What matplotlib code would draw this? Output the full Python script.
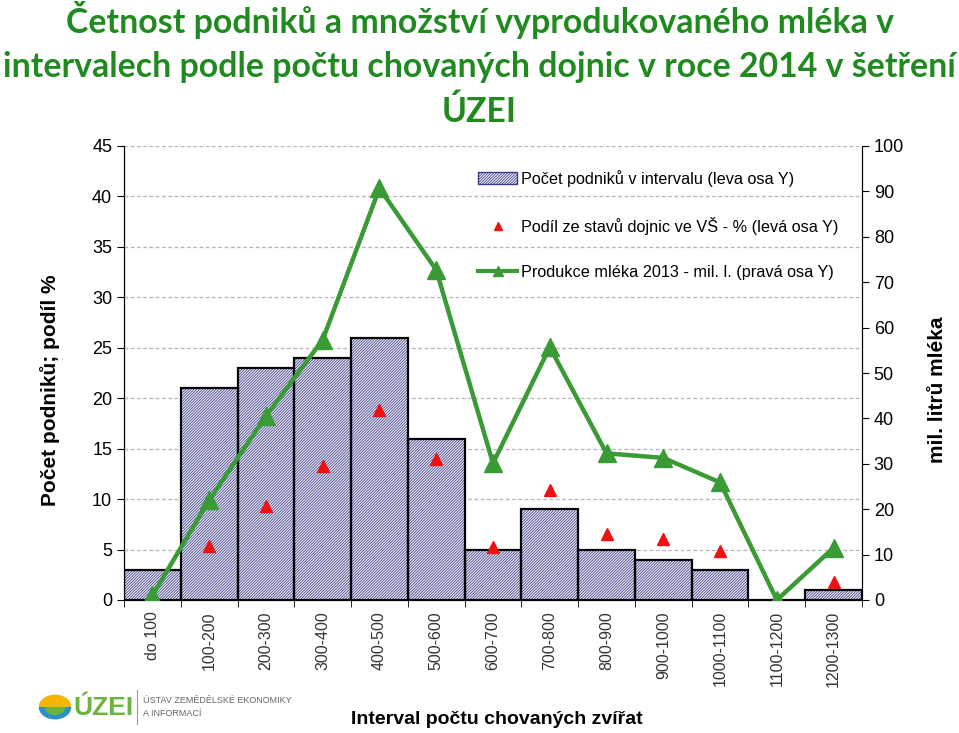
"""
Počet podniků, podíl dojnic a produkce mléka podle velikostních intervalů (ÚZEI 2014).
"""
import numpy as np
import matplotlib
matplotlib.use('Agg')
import matplotlib.pyplot as plt
from matplotlib.patches import Wedge, Patch
from matplotlib.lines import Line2D

# data
intervals = ["do 100", "100-200", "200-300", "300-400", "400-500", "500-600",
             "600-700", "700-800", "800-900", "900-1000", "1000-1100",
             "1100-1200", "1200-1300"]
podniky = [3, 21, 23, 24, 26, 16, 5, 9, 5, 4, 3, 0, 1]
podil_dojnic = [np.nan, 5.4, 9.3, 13.3, 18.8, 14.0, 5.3, 10.9, 6.5, 6.0, 4.9, np.nan, 1.8]
produkce = [1, 22, 40.5, 57.3, 90.7, 72.7, 30.1, 55.7, 32.3, 31.3, 25.9, 0, 11.5]

left_ticks = list(range(0, 50, 5))
right_ticks = list(range(0, 110, 10))

plt.rcParams['font.family'] = ['Liberation Sans', 'DejaVu Sans']
plt.rcParams['hatch.linewidth'] = 0.55

BAR_FACE = '#eeeef8'
HATCH_COL = '#3a3a8a'
GREEN = '#3a9a35'
HATCH = '/' * 12

fig = plt.figure(figsize=(9.59, 7.33), dpi=100)
ax = fig.add_axes([124 / 959, 1 - 600 / 733, (862 - 124) / 959, (600 - 146) / 733])
ax2 = ax.twinx()

x = np.arange(len(intervals))

# bars: hatch layer + black outline
ax.bar(x, podniky, width=1.0, color=BAR_FACE, edgecolor=HATCH_COL,
       hatch=HATCH, linewidth=0, zorder=2)
ax.bar(x, podniky, width=1.0, fill=False, edgecolor='black', linewidth=1.6, zorder=3)
ax.plot(x, podil_dojnic, linestyle='none', marker='^', color='#ee1111',
        markersize=8, zorder=4)

ax2.plot(x, produkce, color=GREEN, linewidth=3.2, marker='^',
         markersize=13, zorder=5)

ax.set_xlim(-0.5, len(intervals) - 0.5)
ax.set_ylim(0, 45)
ax2.set_ylim(0, 100)
ax.set_yticks(left_ticks)
ax2.set_yticks(right_ticks)
ax.tick_params(axis='y', labelsize=13, direction='out', length=5)
ax2.tick_params(axis='y', labelsize=13, direction='out', length=5)
ax.yaxis.grid(True, linestyle=(0, (3, 2)), color='#b5b5b5', linewidth=0.9)
ax.set_axisbelow(True)

ax.set_xticks(x)
ax.set_xticklabels(intervals, rotation=90, fontsize=11.5, color='#333333')
ax.set_xticks(np.arange(-0.5, len(intervals)), minor=True)
ax.tick_params(axis='x', which='major', length=0, pad=8)
ax.tick_params(axis='x', which='minor', length=5, direction='out')

ax.spines['top'].set_visible(False)
ax2.spines['top'].set_visible(False)

ax.set_ylabel("Počet podniků; podíl %", fontsize=15, fontweight='bold')
ax.yaxis.set_label_coords(-0.087, 0.463)
ax2.set_ylabel("mil. litrů mléka", fontsize=15, fontweight='bold')
ax2.yaxis.set_label_coords(1.089, 0.463)

# legend
handles = [
    Patch(facecolor=BAR_FACE, edgecolor=HATCH_COL, hatch=HATCH),
    Line2D([], [], linestyle='none', marker='^', color='#ee1111', markersize=6),
    Line2D([], [], color=GREEN, linewidth=3, marker='^', markersize=7),
]
labels = ["Počet podniků v intervalu (leva osa Y)",
          "Podíl ze stavů dojnic ve VŠ - % (levá osa Y)",
          "Produkce mléka 2013 - mil. l. (pravá osa Y)"]
ax2.legend(handles, labels, loc='upper left', bbox_to_anchor=(0.46, 0.98),
           frameon=False, fontsize=11.7, labelspacing=1.85, handlelength=2.4,
           handletextpad=0.25)

fig.text(0.5, 0.998, "Četnost podniků a množství vyprodukovaného mléka v\n"
         "intervalech podle počtu chovaných dojnic v roce 2014 v šetření\nÚZEI",
         ha='center', va='top', fontsize=24.4, fontweight='bold', color='#208a20',
         family=['Lato', 'DejaVu Sans'], linespacing=1.45)

fig.text(497 / 959, 1 - 720 / 733, "Interval počtu chovaných zvířat",
         ha='center', va='center', fontsize=14, fontweight='bold')

# logo
lx, ly, r = 55 / 959, 1 - 707 / 733, 0.017
fig.patches.append(Wedge((lx, ly), r, 0, 180, facecolor='#f2b705',
                         transform=fig.transFigure, figure=fig))
fig.patches.append(Wedge((lx, ly), r, 180, 360, facecolor='#2a8fd0',
                         transform=fig.transFigure, figure=fig))
fig.patches.append(Wedge((lx, ly), r * 0.65, 180, 360, facecolor='#6cb33f',
                         transform=fig.transFigure, figure=fig))
fig.text(73 / 959, 1 - 708 / 733, "ÚZEI", fontsize=19, fontweight='bold',
         color='#6cb33f', va='center', ha='left')
fig.lines.append(Line2D([137 / 959, 137 / 959], [1 - 690 / 733, 1 - 724 / 733],
                        color='#999999', linewidth=0.8, transform=fig.transFigure))
fig.text(143 / 959, 1 - 707 / 733, "ÚSTAV ZEMĚDĚLSKÉ EKONOMIKY\nA INFORMACÍ",
         fontsize=6.5, color='#666666', va='center', ha='left', linespacing=1.6)

fig.savefig("out.png", dpi=100)
